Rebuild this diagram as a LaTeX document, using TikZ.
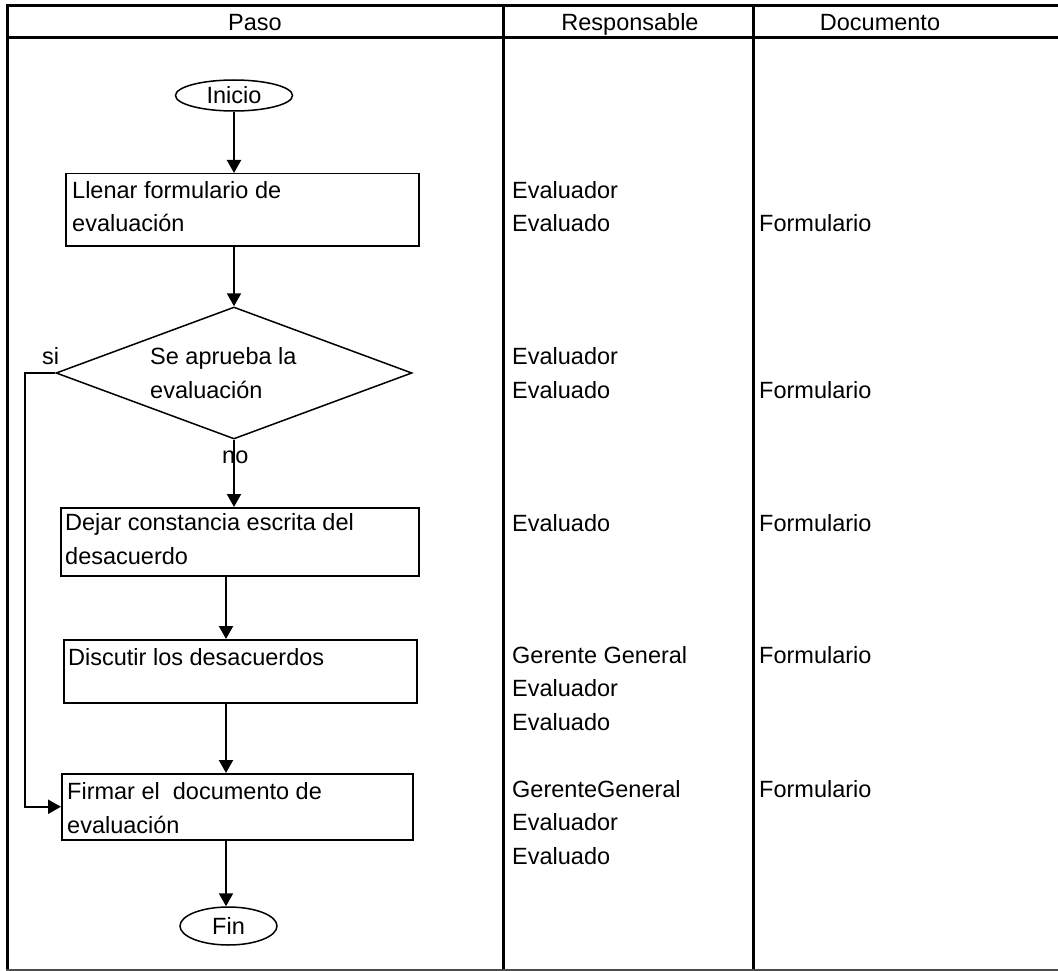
\documentclass[tikz,border=0pt]{standalone}
\usepackage{fontspec}
\setmainfont{Liberation Sans}
\usetikzlibrary{arrows.meta,shapes.geometric}
\begin{document}
\begin{tikzpicture}[x=1pt,y=-1pt,
  every node/.style={font=\fontsize{23.5}{33.3}\selectfont, inner sep=0pt},
  % multi-line texts are placed by the baseline of their last line
  txt/.style={anchor=base west, align=left},
  hdr/.style={anchor=base},
  stepbox/.style={draw, line width=1.5pt, rectangle, anchor=north west},
  term/.style={draw, line width=1.5pt, ellipse},
  decision/.style={draw, line width=1.5pt, diamond, aspect=2.7},
  flow/.style={line width=2.2pt, -{Triangle[width=14pt,length=13pt]}},
  rule/.style={line width=3pt},
]
\useasboundingbox (0,0) rectangle (1058,971);

% table frame
\draw[rule] (6,6) -- (1058,6);
\draw[rule] (6,38) -- (1058,38);
\draw[rule] (7.5,4.5) -- (7.5,970);
\draw[rule] (503,4.5) -- (503,970);
\draw[rule] (753,4.5) -- (753,970);
\draw[line width=1.5pt, black!70] (6,970) -- (1058,970);

% column headers
\node[hdr] (hpaso) at (255,31) {Paso};
\node[hdr] (hresp) at (630,31) {Responsable};
\node[hdr] (hdoc) at (880,31) {Documento};

% flowchart shapes
\node[term, minimum width=117pt, minimum height=31pt] (inicio) at (234,95.5) {Inicio};
\node[stepbox, minimum width=353pt, minimum height=72pt] (b1) at (65,173) {};
\node[txt] (b1t) at (72,231.3) {Llenar formulario de\\evaluación};

\node[decision, minimum width=356pt, minimum height=132pt] (dia) at (234,373) {};
\node[txt] (diat) at (150,398) {Se aprueba la\\evaluación};

\node[stepbox, minimum width=358pt, minimum height=68pt] (b3) at (60,507) {};
\node[txt] (b3t) at (65,564) {Dejar constancia escrita del\\desacuerdo};

\node[stepbox, minimum width=353pt, minimum height=63pt] (b4) at (63,639) {};
\node[txt] (b4t) at (68,665) {Discutir los desacuerdos};

\node[stepbox, minimum width=351pt, minimum height=66pt] (b5) at (61,773) {};
\node[txt] (b5t) at (67,833) {Firmar el\ \ documento de\\evaluación};

\node[term, minimum width=97pt, minimum height=38pt] (fin) at (228.5,926) {Fin};

% branch labels
\node[txt] (lsi) at (42,364) {si};
\node[txt] (lno) at (222,463) {no};

% connectors
\coordinate (spine) at (226,0);
\coordinate (sitop) at (25,373);
\draw[flow] (inicio.south) -- (inicio.south |- b1.north);
\draw[flow] (b1.south -| dia.north) -- (dia.north);
\draw[flow] (dia.south) -- (dia.south |- b3.north);
\draw[flow] (b3.south -| spine) -- (b4.north -| spine);
\draw[flow] (b4.south -| spine) -- (b5.north -| spine);
\draw[flow] (b5.south -| spine) -- (fin.north -| spine);
\draw[line width=1.3pt] (dia.west) -- (sitop) -- (sitop |- b5.west);
\draw[flow] ([xshift=-0.65pt]sitop |- b5.west) -- (b5.west);

% responsible column
\node[txt] (r1) at (512,231.3) {Evaluador\\Evaluado};
\node[txt] (r2) at (512,398) {Evaluador\\Evaluado};
\node[txt] (r3) at (512,531) {Evaluado};
\node[txt] (r4) at (512,730) {Gerente General\\Evaluador\\Evaluado};
\node[txt] (r5) at (512,864) {GerenteGeneral\\Evaluador\\Evaluado};

% document column
\node[txt] (d1) at (759,231) {Formulario};
\node[txt] (d2) at (759,398) {Formulario};
\node[txt] (d3) at (759,531) {Formulario};
\node[txt] (d4) at (759,663) {Formulario};
\node[txt] (d5) at (759,797) {Formulario};
\end{tikzpicture}
\end{document}
